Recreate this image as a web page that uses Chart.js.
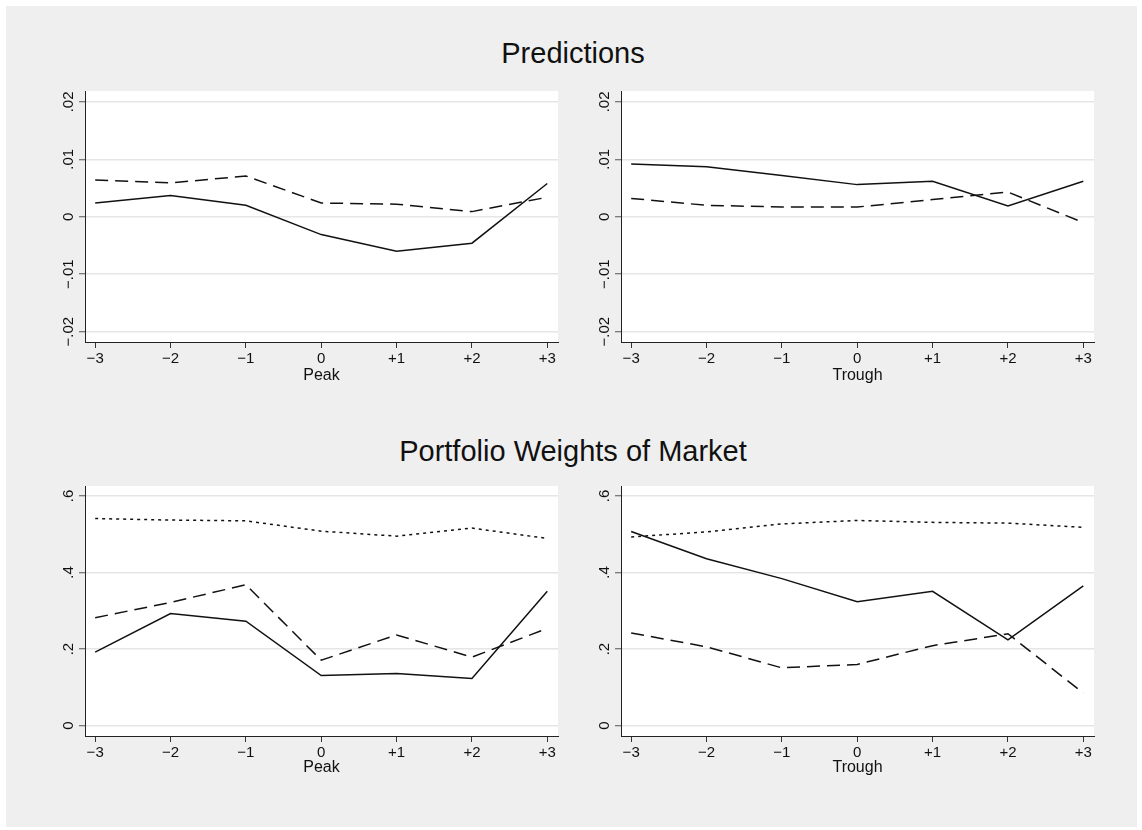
<!DOCTYPE html>
<html>
<head>
<meta charset="utf-8">
<script src="https://cdn.jsdelivr.net/npm/chart.js@4/dist/chart.umd.min.js"></script>
<style>
  body { margin: 0; background: #fff; width: 1142px; height: 830px; position: relative; overflow: hidden; font-family: "Liberation Sans", Arial, sans-serif; }
  #frame { position: absolute; left: 6px; top: 6px; width: 1131px; height: 821px; background: #efefef; }
  .ttl { position: absolute; left: 0; width: 1146px; text-align: center; font-size: 29px; line-height: 29px; color: #111; }
  canvas { position: absolute; }
</style>
</head>
<body>
<div id="frame"></div>
<div class="ttl" style="top:39px">Predictions</div>
<div class="ttl" style="top:437px">Portfolio Weights of Market</div>
<canvas id="predPeak" width="530" height="300" style="left:40px;top:85px"></canvas>
<canvas id="predTrough" width="530" height="300" style="left:576px;top:85px"></canvas>
<canvas id="wPeak" width="530" height="297" style="left:40px;top:480px"></canvas>
<canvas id="wTrough" width="530" height="297" style="left:576px;top:480px"></canvas>
<script>
// ── DATA ──────────────────────────────────────────────
const events = [-3, -2, -1, 0, 1, 2, 3];
const xTickLabels = ['−3', '−2', '−1', '0', '+1', '+2', '+3'];

const predTicks = [-0.02, -0.01, 0, 0.01, 0.02];
const predTickLabels = ['−.02', '−.01', '0', '.01', '.02'];
const weightTicks = [0, 0.2, 0.4, 0.6];
const weightTickLabels = ['0', '.2', '.4', '.6'];

const predPeakSolid = [0.0024, 0.0037, 0.0020, -0.0031, -0.0060, -0.0046, 0.0058];
const predPeakDash = [0.0064, 0.0059, 0.0071, 0.0024, 0.0022, 0.0009, 0.0034];
const predTroughSolid = [0.0092, 0.0087, 0.0072, 0.0056, 0.0062, 0.0019, 0.0062];
const predTroughDash = [0.0032, 0.0020, 0.0017, 0.0017, 0.0030, 0.0043, -0.0010];

const weightPeakSolid = [0.192, 0.293, 0.273, 0.131, 0.136, 0.123, 0.351];
const weightPeakDash = [0.282, 0.322, 0.368, 0.171, 0.237, 0.179, 0.254];
const weightPeakDot = [0.541, 0.537, 0.535, 0.508, 0.495, 0.516, 0.489];
const weightTroughSolid = [0.507, 0.436, 0.384, 0.324, 0.351, 0.224, 0.365];
const weightTroughDash = [0.242, 0.206, 0.151, 0.160, 0.209, 0.240, 0.085];
const weightTroughDot = [0.493, 0.506, 0.527, 0.536, 0.531, 0.529, 0.518];

// ── HELPERS ───────────────────────────────────────────
const FONT = "'Liberation Sans', Arial, sans-serif";
const INK = '#111';

function series(vals, dash) {
  return {
    data: events.map((x, i) => ({ x, y: vals[i] })),
    borderColor: INK,
    borderWidth: 1.5,
    borderDash: dash,
    pointRadius: 0,
    tension: 0,
    fill: false,
  };
}

// white plot region + rotated y labels (Stata style)
const panelPlugin = {
  id: 'panel',
  beforeDraw(chart) {
    const { ctx, chartArea: a } = chart;
    ctx.save();
    ctx.fillStyle = '#fff';
    ctx.fillRect(a.left, a.top, a.right - a.left, a.bottom - a.top);
    ctx.restore();
  },
  afterDraw(chart) {
    const { ctx } = chart;
    const y = chart.scales.y;
    const labels = chart.options.plugins.panel.labels;
    const vals = chart.options.plugins.panel.ticks;
    ctx.save();
    ctx.fillStyle = INK;
    ctx.font = '15px ' + FONT;
    ctx.textAlign = 'center';
    ctx.textBaseline = 'middle';
    vals.forEach((v, i) => {
      ctx.save();
      ctx.translate(y.right - 16, y.getPixelForValue(v));
      ctx.rotate(-Math.PI / 2);
      ctx.fillText(labels[i], 0, 0);
      ctx.restore();
    });
    ctx.restore();
  }
};

function makePanel(id, datasets, xTitle, yTicks, yLabels, yMin, yMax, xAxisH) {
  new Chart(document.getElementById(id), {
    type: 'line',
    data: { datasets },
    plugins: [panelPlugin],
    options: {
      responsive: false,
      animation: false,
      events: [],
      layout: { padding: { top: 6, right: 12, bottom: 0, left: 0 } },
      plugins: {
        legend: { display: false },
        tooltip: { enabled: false },
        panel: { ticks: yTicks, labels: yLabels },
      },
      scales: {
        x: {
          type: 'linear',
          min: -3.135,
          max: 3.142,
          afterBuildTicks: s => { s.ticks = events.map(v => ({ value: v })); },
          afterFit: s => { s.height = xAxisH; },
          border: { color: '#222', width: 1 },
          grid: { drawOnChartArea: false, drawTicks: true, tickLength: 6, tickColor: '#333', tickWidth: 1 },
          ticks: {
            color: INK,
            font: { family: FONT, size: 15 },
            padding: 2,
            maxRotation: 0,
            autoSkip: false,
            callback: (v) => xTickLabels[events.indexOf(v)],
          },
          title: { display: true, text: xTitle, color: INK, font: { family: FONT, size: 16 }, padding: 0 },
        },
        y: {
          type: 'linear',
          min: yMin,
          max: yMax,
          afterBuildTicks: s => { s.ticks = yTicks.map(v => ({ value: v })); },
          afterFit: s => { s.width = 45; },
          border: { color: '#222', width: 1 },
          grid: { color: '#e6e6e6', lineWidth: 1.5, drawTicks: true, tickLength: 6, tickColor: '#555', tickWidth: 1 },
          ticks: { display: false },
        },
      },
    },
  });
}

makePanel('predPeak', [series(predPeakSolid, []), series(predPeakDash, [13, 7])],
  'Peak', predTicks, predTickLabels, -0.0218, 0.0219, 43);
makePanel('predTrough', [series(predTroughSolid, []), series(predTroughDash, [13, 7])],
  'Trough', predTicks, predTickLabels, -0.0218, 0.0219, 43);
makePanel('wPeak', [series(weightPeakSolid, []), series(weightPeakDash, [13, 7]), series(weightPeakDot, [3, 4])],
  'Peak', weightTicks, weightTickLabels, -0.027, 0.626, 41);
makePanel('wTrough', [series(weightTroughSolid, []), series(weightTroughDash, [13, 7]), series(weightTroughDot, [3, 4])],
  'Trough', weightTicks, weightTickLabels, -0.027, 0.626, 41);
</script>
</body>
</html>
